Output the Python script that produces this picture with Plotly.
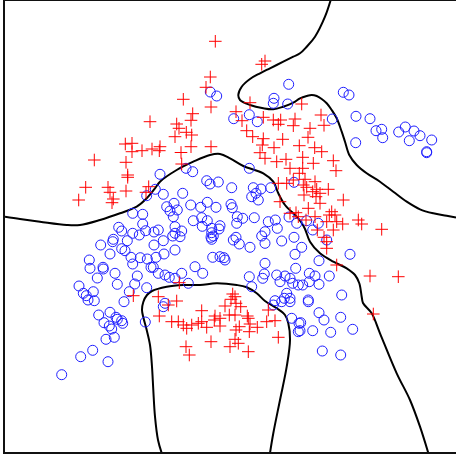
import plotly.graph_objects as go

# Class +1 samples (red crosses)
pos_x = [215.3, 261.7, 265, 210.3, 206, 183.3, 211, 192.7, 191, 176.7, 179, 175, 186.3, 191.7,
         160, 159.3, 181, 191, 211, 236, 250, 242, 263.3, 273.3, 280.7, 278.3, 295, 293.3, 301.7,
         246.7, 252.7, 263.3, 262.3, 260, 274, 282.7, 299.3, 150, 125.3, 132, 132, 142, 152,
         321, 324, 310, 308, 314.7, 321.7,
         94.3, 126, 127.7, 127.7, 85.7, 108, 110, 126, 148.7, 146, 78.7, 113.3, 112, 133.3,
         181.7, 265, 276.7, 286, 290, 278.3, 286.7, 293.3, 299.3, 280, 290, 296, 298.3,
         179.3, 158.3, 232.7, 235, 231,
         302.7, 313.3, 333.3, 336, 302.7, 305, 315, 303.3, 306.7, 312.7, 316.7, 320, 316, 320,
         328.3, 304, 343.3, 308.3, 331.7, 329.3, 335, 315, 306, 336.7, 342.7, 358.3, 361.7,
         326.7, 381.7, 317.3, 333.3, 324, 326.7, 326.7, 336.7, 370, 398.3,
         168.3, 176.7, 159.3, 201.7, 171.7, 178.3, 183.3, 186.7, 191.7, 198.3, 201.7, 206.7,
         215, 214.3, 220, 220, 225, 229.3, 235, 236, 240.7, 247.3, 248.3, 239.3, 236, 250,
         249.3, 257.3, 266.7, 275, 268.3, 278.3, 211, 235, 238.3, 230, 248.3, 186, 189.3, 373.3]
pos_y = [41.3, 64.3, 61, 77, 87.3, 99.3, 107, 113.7, 120.3, 124, 128.3, 136.7, 132.3, 135,
         146.7, 150.7, 152.5, 146.7, 146.7, 111.7, 102.7, 120.7, 117.3, 120, 120, 124.3, 119, 125.7, 104,
         130.7, 136.7, 138.7, 145, 152.7, 147.7, 139.3, 145.7, 121.7, 144, 143.3, 151.7, 150.7, 149,
         115, 125.3, 128.3, 137.3, 147.7, 151.7,
         160, 162.3, 175, 177.3, 187.3, 187.3, 192.3, 191, 186.7, 192.3, 200, 199, 202.7, 295.7,
         164, 158.3, 161.7, 159.3, 168.3, 183.3, 183.3, 180, 173.3, 201.7, 213.3, 212.7, 216.7,
         282.7, 296.7, 294, 296.7, 299.3,
         157.3, 163.3, 160.7, 170.7, 168.3, 179.3, 181.7, 185, 187.3, 191.7, 189.3, 193.3, 196.7, 203.3,
         189.3, 195, 200, 208.3, 211.7, 215, 215, 216.7, 220, 221.7, 224, 220, 224,
         221.7, 229.3, 230, 230, 237.3, 248.3, 241.7, 265, 276, 276.7,
         305, 301, 316, 310.7, 321.7, 321.7, 325, 328.3, 325, 323.3, 321.7, 327.3,
         316, 320, 318.3, 326, 306, 315, 315, 303.3, 306.7, 316, 318.3, 326.7, 330, 324,
         331.7, 327.3, 321.7, 320.7, 310, 337.3, 341.7, 339.3, 343.3, 346.7, 351.7, 346.7, 355, 314]

# Class -1 samples (blue circles)
neg_x = [210.3, 216.7, 233.7, 249.3, 257.3, 274, 273.3, 287.7, 288.7,
         343.3, 349, 332.3, 356, 370, 376, 381.7, 382.7, 398.7, 405.3, 414, 420, 409.3, 431.7,
         426.7, 355.7,
         146.7, 132.7, 142.7, 142.7, 118.7, 121.7, 132.7, 139.3, 145.7, 113.3, 112.7, 127.3,
         100.7, 121.7, 125, 110, 89.3, 90, 103, 103.3, 131, 132.7, 140.3, 147.3, 151, 115,
         97.3, 137.3, 117.3, 134.7, 79, 83.3, 86.3, 93.3, 129.3, 146.7, 88, 94.3, 124, 154, 154,
         98.7, 110, 104, 109.3, 111.7, 116, 117.3, 121.7, 122.7, 106, 114.3, 92.7, 80.7, 108,
         61.7, 145.3,
         186, 192.7, 160, 249.3, 206.7, 210, 218.3, 231.7, 253.3, 261, 256, 270.7, 294,
         163.3, 182.7, 155.3, 166.7, 174, 177.3, 190.7, 200.7, 207.3, 216, 231, 232.3, 258.3,
         251.7, 170, 173.3, 193.3, 201.7, 207.3, 220, 219, 202.3, 211.7, 237.3, 242.7, 254.3,
         236.7, 268.3, 275.3, 261.7, 265, 277.3, 296.7, 289, 158.3, 175, 175, 181.7, 172.7, 180,
         211.7, 213.3, 211, 211.7, 236, 233.3, 239.3, 281.7, 294, 265, 163.3, 164, 156, 175,
         250, 295, 212.7, 220, 224, 225, 265, 264.3, 262.7, 195, 202.7, 153.3, 158.3, 165,
         169.3, 175, 181.7, 188.3, 249.3, 251.7, 276.7, 285, 290, 295.7, 280, 292.7, 298.3,
         286.7, 284.3, 290, 275, 165,
         426.7, 306.7, 318.3, 312.7, 326.7, 301.7, 350, 319, 309.3, 315, 329.3, 319, 302.7,
         309.3, 341.7, 308.3,
         163.3, 273.3, 281.7, 290, 291.7, 299, 298.3,
         308.3, 319, 324, 340.7, 300.7, 312.7, 330.7, 352.7, 300, 322.3, 340.7]
neg_y = [92, 96, 118.7, 114.7, 121.7, 98.3, 103.3, 104, 84.3,
         92.3, 95, 119, 116.3, 118.7, 130.7, 129.3, 137.7, 132, 127, 131, 135.7, 140.7, 140,
         151.7, 142.7,
         195.7, 213.3, 214.3, 224, 227.3, 231, 233.3, 235, 230.7, 239.3, 241.7, 240.7,
         245, 248.7, 250.7, 254, 260, 268.3, 267.3, 269, 257.3, 264, 257.7, 259, 267.3, 273.3,
         278, 276, 284.3, 284, 286, 293.3, 295.7, 291.7, 291.7, 287.7, 300, 300.7, 301.7, 232, 245,
         315, 312.3, 322.7, 326, 329, 317.3, 319.3, 320.7, 323.3, 339.3, 337.3, 350.3, 356.7, 361.7,
         374.7, 322,
         168.3, 171.7, 174.3, 168.3, 180.7, 184, 182, 187.7, 187.7, 189, 193.3, 187.7, 182.3,
         194.3, 193.3, 189.3, 206.7, 203.3, 210, 205, 207.3, 202.3, 207.3, 204.3, 207.7, 200,
         196.7, 211, 216.7, 220.7, 217.7, 220.7, 225.7, 229, 226.3, 228.3, 216.7, 218.3, 217.7,
         223.3, 221.7, 220, 236, 231.7, 228.3, 223.3, 217, 230, 226.7, 233.3, 231, 236, 236.7,
         232.7, 236, 237.3, 239.3, 237.3, 240, 244, 241, 237.3, 243.3, 240.7, 254, 257.3, 250,
         247.3, 254.3, 257.3, 256.7, 257.7, 260, 263.3, 274, 278.3, 266.7, 273.3, 267.3, 273.3, 275,
         277.3, 278.3, 273.3, 283.3, 276.7, 286.7, 275, 276, 278.3, 268.3, 281.7, 283.3, 285,
         293.3, 298.3, 298.3, 300.7, 303.3,
         152.7, 220.7, 223.3, 230, 240, 247.3, 254.3, 260.7, 273.3, 276, 276, 284.3, 285,
         281.7, 295, 300,
         306.7, 305, 301.7, 301.7, 318.3, 323.3, 331.7,
         301.7, 312.7, 320, 317.3, 322.7, 330.7, 332.3, 329.3, 330.7, 351, 355]

# Decision boundary (zero level of the classifier), three separate branches
edge_a_x = [330.7, 325, 315, 306.7, 300, 293.3, 283.3, 270, 260, 250, 241.7, 238.3, 240, 250,
            263.3, 273.3, 283.3, 293.3, 300, 306.7, 311.7, 316.7, 321.7, 326.7, 331.7, 336.7,
            341.7, 345, 349.3, 356.7, 366.7, 380, 393.3, 406.7, 420, 433.3, 446.7, 456]
edge_a_y = [0, 16.7, 36.7, 46.7, 53.3, 56.7, 61.7, 68.3, 73.3, 79, 86.7, 95, 100, 105,
            108.3, 109.3, 106.7, 102.7, 98.3, 96, 95, 96, 99, 103.3, 110, 118.3,
            131.7, 141.7, 155, 165, 173.3, 181.7, 191.7, 201.7, 209.3, 213.3, 215.7, 217.5]

edge_b_x = [5, 20, 40, 66.7, 80, 100, 120, 136.7, 146.7, 155, 160, 176.7, 193.3, 210, 220,
            230, 243.3, 263.3, 273.3, 278.3, 285, 296.7, 301, 305, 310, 320, 333.3, 346.7,
            355, 359.3, 361.7, 363, 371.7, 380, 396.7, 410, 420, 428.3]
edge_b_y = [216.7, 219, 221.7, 225, 225, 220, 213.3, 206.7, 198.3, 188.3, 181.7, 170, 161.7,
            155, 154, 158.3, 166, 173.3, 181.7, 193.3, 205, 216.7, 222, 229, 241.7, 253.3,
            261.7, 268.3, 275, 283.3, 296.7, 303, 313.3, 333.3, 373.3, 400, 426.7, 453]

edge_c_x = [161.7, 158, 155, 153.3, 152, 150, 146.7, 143.5, 142, 143.3, 147, 152, 166.7,
            183.3, 200, 216.7, 236.7, 246.7, 256.7, 265, 276.7, 285, 288.3, 290, 286.7, 280,
            273.3, 270]
edge_c_y = [453, 440, 416.7, 390, 366.7, 345, 330, 318, 310, 302, 295, 291, 286.7,
            285, 285, 283.3, 285, 287.3, 293.3, 301, 308.3, 315, 323.3, 340, 366.7, 400,
            433.3, 453]

fig = go.Figure()

for bx, by in [(edge_a_x, edge_a_y), (edge_b_x, edge_b_y), (edge_c_x, edge_c_y)]:
    fig.add_trace(go.Scatter(
        x=bx, y=by, mode="lines", line=dict(color="black", width=2, shape="spline"),
        hoverinfo="skip", showlegend=False,
    ))

fig.add_trace(go.Scatter(
    x=neg_x, y=neg_y, mode="markers", showlegend=False,
    marker=dict(symbol="circle-open", size=10, color="#1f1fff", line=dict(width=1)),
))
fig.add_trace(go.Scatter(
    x=pos_x, y=pos_y, mode="markers", showlegend=False,
    marker=dict(symbol="cross-thin-open", size=9, color="#ff0000", line=dict(width=1, color="#ff0000")),
))

fig.update_layout(
    width=456, height=457,
    margin=dict(l=5, r=0, t=1, b=5),
    paper_bgcolor="white", plot_bgcolor="white",
    xaxis=dict(range=[5, 456], showgrid=False, zeroline=False, showticklabels=False,
               ticks="", showline=True, linecolor="#111111", linewidth=2, mirror=True),
    yaxis=dict(range=[452, 1], showgrid=False, zeroline=False, showticklabels=False,
               ticks="", showline=True, linecolor="#111111", linewidth=2, mirror=False),
)

fig.write_html("out.html")
